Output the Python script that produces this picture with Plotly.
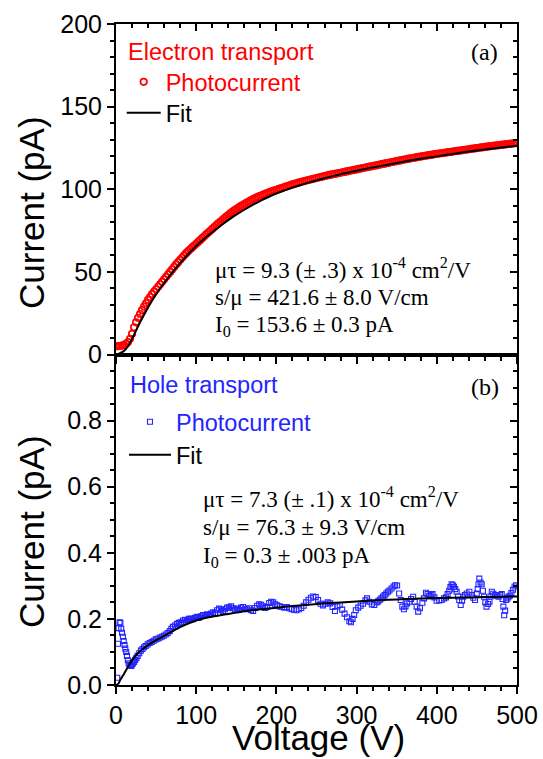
import plotly.graph_objects as go

# ---------------- data ----------------
# (a) electron transport photocurrent, sampled every 2.5 V
V_e = [i * 2.5 for i in range(201)]
I_e = [5.0, 5.0, 5.2, 5.4, 5.8, 6.5, 7.5, 9.5, 12.5, 16.5,
       19.5, 22.2, 24.5, 26.8, 29.0, 31.0, 33.0, 34.8, 36.5, 38.0,
       39.5, 41.0, 42.5, 44.0, 45.5, 47.0, 48.5, 50.0, 51.5, 53.0,
       54.5, 55.9, 57.3, 58.7, 60.0, 61.3, 62.5, 63.7, 64.8, 65.9,
       67.0, 68.1, 69.2, 70.4, 71.5, 72.7, 73.8, 74.9, 76.0, 77.1,
       78.2, 79.3, 80.3, 81.4, 82.4, 83.4, 84.4, 85.4, 86.3, 87.2,
       88.0, 88.8, 89.6, 90.3, 91.0, 91.7, 92.4, 93.1, 93.7, 94.3,
       94.9, 95.5, 96.0, 96.5, 97.0, 97.5, 98.0, 98.5, 98.9, 99.3,
       99.7, 100.1, 100.5, 100.9, 101.3, 101.7, 102.1, 102.5, 102.9, 103.3,
       103.6, 104.0, 104.3, 104.7, 105.0, 105.3, 105.6, 105.9, 106.2, 106.5,
       106.8, 107.1, 107.4, 107.7, 108.0, 108.3, 108.5, 108.8, 109.0, 109.3,
       109.5, 109.8, 110.0, 110.3, 110.5, 110.8, 111.0, 111.3, 111.5, 111.8,
       112.0, 112.3, 112.5, 112.8, 113.0, 113.3, 113.5, 113.8, 114.0, 114.3,
       114.5, 114.8, 115.0, 115.3, 115.5, 115.8, 116.0, 116.3, 116.5, 116.8,
       117.0, 117.3, 117.5, 117.8, 118.0, 118.2, 118.5, 118.7, 118.9, 119.1,
       119.4, 119.6, 119.8, 120.0, 120.2, 120.4, 120.6, 120.8, 121.0, 121.2,
       121.4, 121.6, 121.8, 121.9, 122.1, 122.3, 122.5, 122.6, 122.8, 123.0,
       123.2, 123.3, 123.5, 123.7, 123.9, 124.0, 124.2, 124.4, 124.6, 124.7,
       124.9, 125.1, 125.3, 125.4, 125.6, 125.8, 125.9, 126.1, 126.2, 126.4,
       126.5, 126.7, 126.8, 127.0, 127.1, 127.3, 127.4, 127.6, 127.7, 127.9,
       128.0]
V_e_fit = [0, 3, 5, 10, 15, 20, 25, 30, 35, 40, 45, 50, 60, 70, 80, 90, 100,
           110, 120, 130, 140, 150, 160, 170, 180, 190, 200, 220, 240, 260,
           280, 300, 320, 340, 360, 380, 400, 420, 440, 460, 480, 500]
I_e_fit = [0.0, 0.3, 0.8, 2.2, 5.0, 9.5, 14.5, 19.5, 24.0, 28.5, 32.5, 36.5,
           43.2, 49.5, 55.3, 60.7, 65.6, 70.0, 74.0, 77.8, 81.3, 84.6, 87.6,
           90.4, 93.0, 95.3, 97.4, 101.0, 104.0, 106.7, 109.1, 111.2, 113.2,
           115.0, 116.8, 118.4, 119.9, 121.4, 122.8, 124.1, 125.3, 126.4]

# (b) hole transport photocurrent
V_h = [1.5, 2.5, 3.2, 4.4, 5.5, 6.5, 7.5, 8.6, 9.6, 10.6, 11.6, 12.7, 13.7,
       14.8, 15.8, 16.9, 18, 19, 20, 21, 22.5, 24, 25.5, 27, 29, 31, 33, 35,
       37, 39.5, 42, 44.5, 47, 49.5, 52, 54.5, 57, 59.5, 62, 64.5, 67, 69,
       71, 73.5, 76, 78.5, 81, 83.5, 86, 88.5, 91, 93.5, 96, 98.5, 101,
       103.5, 106, 108.5, 111, 113.5, 116, 118.5, 121, 123.5, 126, 128.5,
       131, 133.5, 136, 138.5, 141, 143.5, 146, 148.5, 151, 153.5, 156,
       158.5, 161, 163.5, 166, 168.5, 171, 173.5, 176, 178.5, 181, 183.5,
       186, 188.5, 191, 193.5, 196, 198.5, 201, 204, 207, 210, 213, 216,
       219, 222, 225, 228, 231, 234, 237, 240, 243, 246, 249, 252, 255, 258,
       261, 264, 267, 270, 273, 276, 279, 282, 285, 288, 291, 293, 295, 297,
       299, 302, 305, 308, 311, 313, 316, 319, 322, 325, 327, 329, 331, 333,
       335, 337, 339, 341, 343.5, 346, 348, 350.5, 353, 355, 357, 359, 361,
       363, 366, 368, 370.5, 372.5, 374.8, 376.8, 379, 382, 384, 386.5,
       388.5, 390.6, 392.5, 394.7, 397, 399.7, 403, 406, 409, 411.4, 413.5,
       415.5, 417, 418.5, 420, 421.4, 423, 424.7, 426.5, 428, 429.8, 431.5,
       433, 435, 437.3, 440.6, 443.5, 445.5, 447.7, 449.8, 451, 452, 453,
       454.5, 456, 457.5, 459, 460.5, 462, 464, 465.7, 467, 468.6, 470.5,
       472.8, 475, 477, 479, 481, 482, 483, 484, 485.2, 486.5, 488, 489.4,
       491, 493, 495, 497, 499]
I_h = [0.022, 0.125, 0.172, 0.19, 0.188, 0.17, 0.158, 0.146, 0.133, 0.121,
       0.11, 0.1, 0.088, 0.075, 0.066, 0.062, 0.06, 0.058, 0.062, 0.065, 0.07,
       0.076, 0.082, 0.088, 0.096, 0.104, 0.109, 0.114, 0.118, 0.123, 0.127,
       0.13, 0.134, 0.138, 0.14, 0.143, 0.146, 0.149, 0.153, 0.157, 0.163,
       0.17, 0.176, 0.18, 0.185, 0.188, 0.19, 0.195, 0.197, 0.196, 0.2, 0.201,
       0.199, 0.203, 0.206, 0.204, 0.208, 0.212, 0.211, 0.214, 0.212, 0.216,
       0.22, 0.218, 0.226, 0.231, 0.228, 0.224, 0.229, 0.234, 0.235, 0.238,
       0.232, 0.228, 0.231, 0.227, 0.234, 0.236, 0.23, 0.229, 0.232, 0.226,
       0.224, 0.233, 0.24, 0.244, 0.243, 0.238, 0.233, 0.236, 0.248, 0.252,
       0.25, 0.244, 0.241, 0.238, 0.236, 0.234, 0.236, 0.232, 0.229, 0.228,
       0.226, 0.229, 0.233, 0.24, 0.25, 0.258, 0.264, 0.268, 0.266, 0.257,
       0.246, 0.241, 0.246, 0.25, 0.247, 0.236, 0.224, 0.238, 0.242, 0.228,
       0.216, 0.205, 0.193, 0.19, 0.2, 0.212, 0.226, 0.234, 0.24, 0.246,
       0.256, 0.262, 0.252, 0.244, 0.242, 0.25, 0.253, 0.258, 0.262, 0.268,
       0.272, 0.277, 0.282, 0.286, 0.292, 0.298, 0.302, 0.301, 0.277, 0.257,
       0.237, 0.229, 0.238, 0.247, 0.252, 0.26, 0.267, 0.252, 0.237, 0.222,
       0.232, 0.249, 0.262, 0.279, 0.275, 0.269, 0.272, 0.275, 0.265, 0.255,
       0.256, 0.257, 0.262, 0.265, 0.275, 0.285, 0.296, 0.305, 0.302, 0.297,
       0.29, 0.282, 0.268, 0.257, 0.242, 0.255, 0.267, 0.272, 0.277, 0.282,
       0.272, 0.264, 0.257, 0.277, 0.29, 0.305, 0.322, 0.31, 0.305, 0.285,
       0.267, 0.25, 0.237, 0.245, 0.252, 0.268, 0.282, 0.276, 0.272, 0.27,
       0.267, 0.272, 0.275, 0.26, 0.237, 0.211, 0.225, 0.257, 0.262, 0.267,
       0.27, 0.278, 0.288, 0.298, 0.302]
V_h_fit = [0, 3, 5, 10, 15, 20, 25, 30, 35, 40, 45, 50, 60, 70, 80, 90, 100,
           110, 120, 130, 140, 150, 160, 180, 200, 220, 240, 260, 280, 300,
           320, 340, 360, 380, 400, 420, 440, 460, 480, 500]
I_h_fit = [0.0, 0.004, 0.014, 0.034, 0.055, 0.075, 0.09, 0.102, 0.112,
           0.121, 0.129, 0.136, 0.149, 0.162, 0.175, 0.186, 0.195, 0.202,
           0.207, 0.211, 0.215, 0.219, 0.223, 0.229, 0.234, 0.239, 0.243,
           0.247, 0.25, 0.253, 0.256, 0.258, 0.26, 0.262, 0.263, 0.264,
           0.265, 0.266, 0.267, 0.268]

top_ticks = [0, 50, 100, 150, 200]
bot_ticks = [0.0, 0.2, 0.4, 0.6, 0.8]
bot_ticktext = ["0.0", "0.2", "0.4", "0.6", "0.8"]
x_ticks = [0, 100, 200, 300, 400, 500]

# ---------------- layout helpers ----------------
W, H = 543, 759
ML, MR, MT, MB = 116, 26, 24, 74
PW, PH = W - ML - MR, H - MT - MB


def px(x):
    return (x - ML) / PW


def py(y):
    return (H - MB - y) / PH


SANS = "Liberation Sans, Arial, sans-serif"
SERIF = "Liberation Serif, Times New Roman, serif"
RED = "#ff0000"
BLUE = "#2424ff"

fig = go.Figure()

fig.add_trace(go.Scatter(
    x=V_e, y=I_e, mode="markers", name="Photocurrent",
    marker=dict(symbol="circle-open", size=6.5, color=RED, line=dict(width=1.7, color=RED)),
    xaxis="x2", yaxis="y2", legend="legend", showlegend=True))
fig.add_trace(go.Scatter(
    x=V_e_fit, y=I_e_fit, mode="lines", name="Fit",
    line=dict(color="black", width=2, shape="spline"),
    xaxis="x2", yaxis="y2", legend="legend2", showlegend=True))
fig.add_trace(go.Scatter(
    x=V_h, y=I_h, mode="markers", name="Photocurrent",
    marker=dict(symbol="square-open", size=5, color=BLUE, line=dict(width=1.1, color=BLUE)),
    xaxis="x", yaxis="y", legend="legend3", showlegend=True))
fig.add_trace(go.Scatter(
    x=V_h_fit, y=I_h_fit, mode="lines", name="Fit",
    line=dict(color="black", width=2, shape="spline"),
    xaxis="x", yaxis="y", legend="legend4", showlegend=True))
# empty traces that hold the mirrored (inside-tick) axes
fig.add_trace(go.Scatter(x=[], y=[], xaxis="x3", yaxis="y3", showlegend=False))
fig.add_trace(go.Scatter(x=[], y=[], xaxis="x4", yaxis="y4", showlegend=False))

axline = dict(showline=True, linecolor="black", linewidth=2, showgrid=False,
              zeroline=False, tickcolor="black", tickwidth=2, ticklen=7,
              automargin=False)
tickfont = dict(family=SANS, size=25, color="black")


def minor(d, where):
    return dict(dtick=d, tick0=0, ticks=where, ticklen=4, tickwidth=1.5, tickcolor="black")


fig.update_layout(
    width=W, height=H, margin=dict(l=ML, r=MR, t=MT, b=MB, autoexpand=False),
    paper_bgcolor="white", plot_bgcolor="white", showlegend=True,
    xaxis=dict(domain=[0, 1], anchor="y", range=[0, 500], tickvals=x_ticks,
               ticks="outside", tickfont=tickfont, minor=minor(20, "outside"), **axline),
    yaxis=dict(domain=[0, 0.5], anchor="x", range=[0, 1.0], tickvals=bot_ticks,
               ticktext=bot_ticktext, ticks="outside", tickfont=tickfont,
               minor=minor(0.05, "outside"), **axline),
    xaxis2=dict(domain=[0, 1], anchor="y2", range=[0, 500], tickvals=x_ticks,
                showticklabels=False, ticks="outside", minor=minor(20, "outside"), **axline),
    yaxis2=dict(domain=[0.5, 1], anchor="x2", range=[0, 200], tickvals=top_ticks,
                ticks="outside", tickfont=tickfont, minor=minor(10, "outside"), **axline),
    xaxis3=dict(overlaying="x2", anchor="y2", side="top", range=[0, 500],
                tickvals=x_ticks, showticklabels=False, ticks="inside",
                minor=minor(20, "inside"), **axline),
    yaxis3=dict(overlaying="y2", anchor="x2", side="right", range=[0, 200],
                tickvals=top_ticks, showticklabels=False, ticks="inside",
                minor=minor(10, "inside"), **axline),
    xaxis4=dict(overlaying="x", anchor="y", side="top", range=[0, 500],
                tickvals=x_ticks, showticklabels=False, ticks="inside",
                minor=minor(20, "inside"), **axline),
    yaxis4=dict(overlaying="y", anchor="x", side="right", range=[0, 1.0],
                tickvals=bot_ticks + [1.0], showticklabels=False, ticks="inside",
                minor=minor(0.05, "inside"), **axline),
)

leg_common = dict(bgcolor="rgba(0,0,0,0)", borderwidth=0, xref="paper", yref="paper",
                  xanchor="left", yanchor="middle", tracegroupgap=0)
fig.update_layout(
    legend=dict(x=px(121.7), y=py(82), itemwidth=34,
                font=dict(family=SANS, size=23.5, color=RED), **leg_common),
    legend2=dict(x=px(121.7), y=py(113), itemwidth=34,
                 font=dict(family=SANS, size=23.5, color="black"), **leg_common),
    legend3=dict(x=px(124), y=py(422), itemwidth=42,
                 font=dict(family=SANS, size=23.5, color=BLUE), **leg_common),
    legend4=dict(x=px(124), y=py(455), itemwidth=42,
                 font=dict(family=SANS, size=23.5, color="black"), **leg_common),
)

ann = []


def add_text(text, x, y, size, color="black", family=SERIF, xanchor="left", angle=0):
    ann.append(dict(text=text, x=px(x), y=py(y), xref="paper", yref="paper",
                    xanchor=xanchor, yanchor="middle", showarrow=False,
                    textangle=angle, font=dict(family=family, size=size, color=color)))


add_text("Electron transport", 126, 52, 23.5, RED, SANS)
add_text("Hole transport", 128, 385, 23.5, BLUE, SANS)
add_text("(a)", 484, 52, 24, xanchor="center")
add_text("(b)", 485, 387, 24, xanchor="center")
add_text("\u03bc\u03c4 = 9.3 (\u00b1 .3) x 10<sup>-4</sup> cm<sup>2</sup>/V", 213, 268, 23)
add_text("s/\u03bc = 421.6 \u00b1 8.0 V/cm", 213, 297, 23)
add_text("I<sub>0</sub> = 153.6 \u00b1 0.3 pA", 213, 326, 23)
add_text("\u03bc\u03c4 = 7.3 (\u00b1 .1) x 10<sup>-4</sup> cm<sup>2</sup>/V", 201, 497, 23)
add_text("s/\u03bc = 76.3 \u00b1 9.3 V/cm", 201, 527, 23)
add_text("I<sub>0</sub> = 0.3 \u00b1 .003 pA", 201, 557, 23)
add_text("Current (pA)", 31, 213, 35, family=SANS, xanchor="center", angle=-90)
add_text("Current (pA)", 31, 532, 35, family=SANS, xanchor="center", angle=-90)
add_text("Voltage (V)", 318, 737, 35, family=SANS, xanchor="center")
fig.update_layout(annotations=ann)

# remove the browser's default 8px page margin so the figure sits at (0, 0)
fig.write_html("out.html",
               config={"displayModeBar": False},
               post_script="document.body.style.margin='0px';document.body.style.overflow='hidden';")
